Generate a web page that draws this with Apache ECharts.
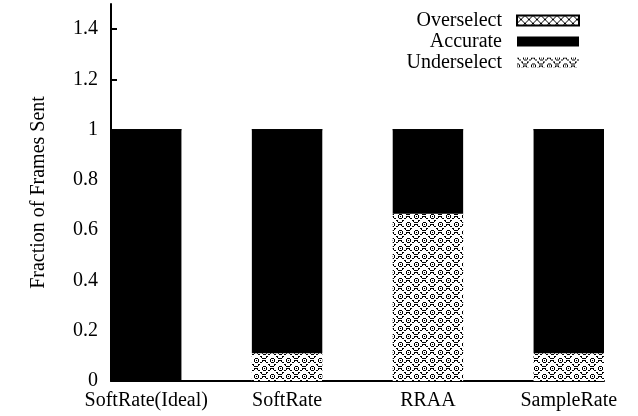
<!DOCTYPE html>
<html>
<head>
<meta charset="utf-8">
<script src="https://cdn.jsdelivr.net/npm/echarts@6/dist/echarts.min.js"></script>
<style>
html,body{margin:0;padding:0;background:#fff;}
#chart{width:638px;height:416px;}
</style>
</head>
<body>
<div id="chart"></div>
<script>
const categories = ['SoftRate(Ideal)', 'SoftRate', 'RRAA', 'SampleRate'];
const underselect = [0.0, 0.11, 0.665, 0.11];
const accurate = [1.0, 0.89, 0.335, 0.89];
const overselect = [0.0, 0.0, 0.0, 0.0];
const yTicks = [0, 0.2, 0.4, 0.6, 0.8, 1, 1.2, 1.4];

// Bars occupy every other slot of the category axis; the empty slots make the gaps.
function spread(arr, filler) {
  const out = [];
  arr.forEach(function (v, i) { if (i > 0) out.push(filler); out.push(v); });
  return out;
}

function makeTile(w, h, draw) {
  const c = document.createElement('canvas');
  c.width = w; c.height = h;
  const ctx = c.getContext('2d');
  ctx.fillStyle = '#fff';
  ctx.fillRect(0, 0, w, h);
  ctx.fillStyle = '#000';
  const px = (x, y) => ctx.fillRect(((x % w) + w) % w, ((y % h) + h) % h, 1, 1);
  draw(px);
  return c;
}
const underTile = makeTile(16, 16, function (px) {
  for (let i = 0; i < 16; i++) { if (i % 4 !== 3) { px(i, i); px(15 - i, i); } }
  for (let i = 0; i < 16; i += 2) { px(i + 1, i); px(14 - i, i); }
  const ring = [[-2,0],[2,0],[0,-2],[0,2],[-2,-1],[2,-1],[-2,1],[2,1],[-1,-2],[1,-2],[-1,2],[1,2]];
  [[8, 0], [0, 8]].forEach(function (c) {
    ring.forEach(function (d) { px(c[0] + d[0], c[1] + d[1]); });
    px(c[0], c[1]);
  });
});
const overTile = makeTile(8, 8, function (px) {
  for (let i = 0; i < 8; i++) { px(i, i); px(7 - i, i); }
});

const font = 'Liberation Serif, Times New Roman, serif';

const chart = echarts.init(document.getElementById('chart'));
chart.setOption({
  animation: false,
  backgroundColor: '#fff',
  textStyle: { fontFamily: font, color: '#000' },
  grid: { left: 111, right: 34, top: 4, bottom: 35, containLabel: false },
  legend: {
    orient: 'vertical',
    align: 'right',
    right: 53,
    top: 5,
    itemWidth: 62,
    itemHeight: 10,
    itemGap: 0,
    icon: 'rect',
    data: ['Overselect', 'Accurate', 'Underselect'],
    textStyle: { fontFamily: font, fontSize: 20, color: '#000', lineHeight: 21, padding: [0, 10, 0, 0] }
  },
  xAxis: {
    type: 'category',
    data: spread(categories, ''),
    boundaryGap: true,
    splitLine: { show: false },
    axisTick: { show: false },
    axisLine: { show: true, onZero: false, lineStyle: { color: '#000', width: 2 } },
    axisLabel: { interval: 0, fontFamily: font, fontSize: 20, color: '#000', margin: 10 }
  },
  yAxis: {
    type: 'value',
    min: 0,
    max: 1.5,
    name: 'Fraction of Frames Sent',
    nameLocation: 'middle',
    nameGap: 62,
    nameTextStyle: { fontFamily: font, fontSize: 20, color: '#000' },
    splitLine: { show: false },
    axisLine: { show: true, onZero: false, lineStyle: { color: '#000', width: 2 } },
    axisTick: { show: true, inside: true, length: 6, customValues: yTicks, lineStyle: { color: '#000', width: 2 } },
    axisLabel: { customValues: yTicks, fontFamily: font, fontSize: 20, color: '#000', margin: 13 }
  },
  series: [
    {
      name: 'Underselect', type: 'bar', stack: 'a', barWidth: '100%',
      itemStyle: { color: { image: underTile, repeat: 'repeat' } },
      data: spread(underselect, null)
    },
    {
      name: 'Accurate', type: 'bar', stack: 'a', barWidth: '100%',
      itemStyle: { color: '#000' },
      data: spread(accurate, null)
    },
    {
      name: 'Overselect', type: 'bar', stack: 'a', barWidth: '100%',
      itemStyle: { color: { image: overTile, repeat: 'repeat' }, borderColor: '#000', borderWidth: 1 },
      data: spread(overselect, null)
    }
  ]
});
</script>
</body>
</html>
